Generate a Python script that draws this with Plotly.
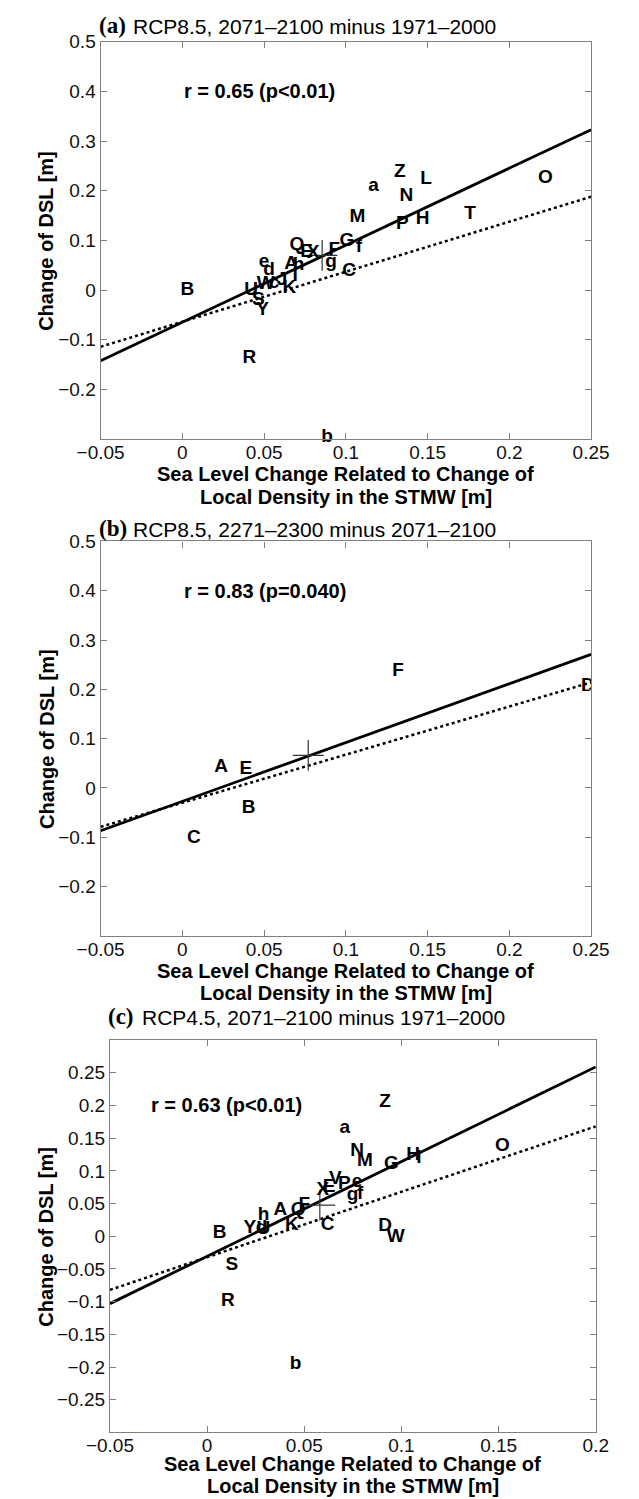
import plotly.graph_objects as go

W, H = 639, 1499

# ---------------- data ----------------
# Panel (a): RCP8.5, 2071-2100 minus 1971-2000
a_labels = ["A", "h", "B", "C", "E", "X", "F", "G", "f", "g", "H", "I", "K", "L", "M", "N",
            "O", "P", "Q", "R", "S", "T", "U", "Y", "Z", "a", "b", "d", "e", "W", "c", "J"]
a_x = [0.0665, 0.071, 0.003, 0.102, 0.076, 0.080, 0.093, 0.1007, 0.108, 0.091, 0.147, 0.069,
       0.0655, 0.149, 0.107, 0.137, 0.222, 0.1345, 0.070, 0.041, 0.0465, 0.176, 0.042, 0.049,
       0.133, 0.117, 0.0885, 0.053, 0.050, 0.051, 0.056, 0.061]
a_y = [0.053, 0.050, 0.0, 0.037, 0.076, 0.074, 0.080, 0.098, 0.087, 0.057, 0.143, 0.027,
       0.003, 0.223, 0.147, 0.190, 0.226, 0.133, 0.090, -0.138, -0.020, 0.153, 0.0, -0.040,
       0.237, 0.210, -0.297, 0.040, 0.057, 0.011, 0.014, 0.020]
a_mean = [0.0855, 0.070]
a_fit_x = [-0.05, 0.25]
a_fit_solid = [-0.142, 0.323]
a_fit_dotted = [-0.114, 0.188]

# Panel (b): RCP8.5, 2271-2300 minus 2071-2100
b_labels = ["A", "B", "C", "D", "E", "F"]
b_x = [0.0237, 0.0406, 0.007, 0.248, 0.0388, 0.132]
b_y = [0.041, -0.041, -0.102, 0.207, 0.037, 0.237]
b_mean = [0.077, 0.066]
b_fit_x = [-0.05, 0.25]
b_fit_solid = [-0.087, 0.271]
b_fit_dotted = [-0.079, 0.214]

# Panel (c): RCP4.5, 2071-2100 minus 1971-2000
c_labels = ["A", "B", "C", "D", "E", "F", "G", "H", "I", "K", "M", "N", "O", "P", "Q", "R",
            "S", "V", "X", "Y", "Z", "a", "b", "d", "U", "h", "g", "f", "e", "W"]
c_x = [0.0377, 0.0064, 0.062, 0.0916, 0.0628, 0.050, 0.0948, 0.106, 0.109, 0.0436, 0.0812,
       0.0772, 0.152, 0.0706, 0.0468, 0.0107, 0.0127, 0.066, 0.0596, 0.022, 0.0916, 0.0708,
       0.0455, 0.028, 0.029, 0.029, 0.0748, 0.0788, 0.0772, 0.097]
c_y = [0.040, 0.004, 0.0175, 0.016, 0.075, 0.0475, 0.110, 0.124, 0.119, 0.0175, 0.115,
       0.130, 0.138, 0.080, 0.040, -0.100, -0.045, 0.0875, 0.070, 0.0125, 0.205, 0.165,
       -0.195, 0.0125, 0.010, 0.032, 0.0625, 0.065, 0.0825, -0.002]
c_mean = [0.058, 0.0475]
c_fit_x = [-0.05, 0.20]
c_fit_solid = [-0.103, 0.259]
c_fit_dotted = [-0.082, 0.168]

# tick labels
x_ticks_ab = [-0.05, 0, 0.05, 0.1, 0.15, 0.2, 0.25]
x_text_ab = ["\u22120.05", "0", "0.05", "0.1", "0.15", "0.2", "0.25"]
y_ticks_ab = [0.5, 0.4, 0.3, 0.2, 0.1, 0, -0.1, -0.2]
y_text_ab = ["0.5", "0.4", "0.3", "0.2", "0.1", "0", "\u22120.1", "\u22120.2"]
x_ticks_c = [-0.05, 0, 0.05, 0.1, 0.15, 0.2]
x_text_c = ["\u22120.05", "0", "0.05", "0.1", "0.15", "0.2"]
y_ticks_c = [0.25, 0.2, 0.15, 0.1, 0.05, 0, -0.05, -0.1, -0.15, -0.2, -0.25]
y_text_c = ["0.25", "0.2", "0.15", "0.1", "0.05", "0", "\u22120.05", "\u22120.1",
            "\u22120.15", "\u22120.2", "\u22120.25"]

titles = ["RCP8.5, 2071\u20132100 minus 1971\u20132000",
          "RCP8.5, 2271\u20132300 minus 2071\u20132100",
          "RCP4.5, 2071\u20132100 minus 1971\u20132000"]
tags = ["(a)", "(b)", "(c)"]
r_texts = ["r = 0.65 (p<0.01)", "r = 0.83 (p=0.040)", "r = 0.63 (p<0.01)"]
r_pos = [(0.0, 0.4), (0.0, 0.4), (-0.03, 0.2)]
xlabel_lines = ["Sea Level Change Related to Change of", "Local Density in the STMW [m]"]
ylabel = "Change of DSL [m]"

# ---------------- layout geometry (pixels) ----------------
boxes = [  # left, right, top, bottom
    (82, 607, 32, 432),
    (82, 607, 535, 932),
    (92, 612, 1037, 1432),
]
xlab_offsets = [(35, 58), (35, 58), (32, 54)]
xranges = [[-0.05, 0.25], [-0.05, 0.25], [-0.05, 0.20]]
yranges = [[-0.3, 0.5], [-0.3, 0.5], [-0.3, 0.3]]

def px(x):
    return x / W

def py(y):
    return 1 - y / H

FONT = "Liberation Sans, Arial, Helvetica, sans-serif"
SERIF = "Liberation Serif, Times New Roman, serif"

fig = go.Figure()

panels = [
    (a_labels, a_x, a_y, a_mean, a_fit_x, a_fit_solid, a_fit_dotted, False),
    (b_labels, b_x, b_y, b_mean, b_fit_x, b_fit_solid, b_fit_dotted, True),
    (c_labels, c_x, c_y, c_mean, c_fit_x, c_fit_solid, c_fit_dotted, False),
]

annotations = []
for i, (labs, xs, ys, mean, fx, fs, fd, clip) in enumerate(panels):
    n = "" if i == 0 else str(i + 1)
    xa, ya = "x" + n, "y" + n
    fig.add_trace(go.Scatter(x=fx, y=fd, mode="lines", xaxis=xa, yaxis=ya,
                             line=dict(color="black", width=2.5, dash="dot"),
                             showlegend=False, hoverinfo="skip"))
    fig.add_trace(go.Scatter(x=fx, y=fs, mode="lines", xaxis=xa, yaxis=ya,
                             line=dict(color="black", width=2.8),
                             showlegend=False, hoverinfo="skip"))
    fig.add_trace(go.Scatter(x=[mean[0]], y=[mean[1]], mode="markers", xaxis=xa, yaxis=ya,
                             marker=dict(symbol="cross-thin", size=22,
                                         line=dict(color="#333333", width=1.2)),
                             showlegend=False, hoverinfo="skip"))
    fig.add_trace(go.Scatter(x=xs, y=ys, text=labs, mode="text", xaxis=xa, yaxis=ya,
                             textposition="middle center", cliponaxis=clip,
                             textfont=dict(family=FONT, size=19, color="black", weight="bold"),
                             showlegend=False, hoverinfo="skip"))

    l, r, t, b = boxes[i]
    xt, xtt = (x_ticks_ab, x_text_ab) if i < 2 else (x_ticks_c, x_text_c)
    yt, ytt = (y_ticks_ab, y_text_ab) if i < 2 else (y_ticks_c, y_text_c)
    axis_common = dict(showgrid=False, zeroline=False, showline=True, mirror="ticks",
                       linecolor="#808080", linewidth=1.2, ticks="inside", ticklen=6,
                       tickcolor="#808080", tickwidth=1.2,
                       tickfont=dict(family=FONT, size=19, color="#111111"))
    fig.update_layout(**{
        "xaxis" + n: dict(domain=[px(l), px(r)], range=xranges[i], anchor=ya,
                          tickvals=xt, ticktext=xtt, ticklabelstandoff=-4, **axis_common),
        "yaxis" + n: dict(domain=[py(b), py(t)], range=yranges[i], anchor=xa,
                          tickvals=yt, ticktext=ytt, **axis_common),
    })

    # title: tag in serif + text in sans
    ty = [16, 522, 1013][i]
    annotations.append(dict(x=px(l - 4), y=py(ty), xref="paper", yref="paper",
                            text="<b>" + tags[i] + "</b>", showarrow=False,
                            xanchor="left", yanchor="middle",
                            font=dict(family=SERIF, size=23, color="black")))
    annotations.append(dict(x=px(l + 32), y=py(ty + 1), xref="paper", yref="paper",
                            text=titles[i], showarrow=False,
                            xanchor="left", yanchor="middle",
                            font=dict(family=FONT, size=21, color="black")))
    # correlation text
    annotations.append(dict(x=r_pos[i][0], y=r_pos[i][1], xref=xa, yref=ya,
                            text="<b>" + r_texts[i] + "</b>", showarrow=False,
                            xanchor="left", yanchor="middle",
                            font=dict(family=FONT, size=20, color="black")))
    # x label, two lines
    for k, line in enumerate(xlabel_lines):
        annotations.append(dict(x=px((l + r) / 2), y=py(b + xlab_offsets[i][k]),
                                xref="paper", yref="paper",
                                text="<b>" + line + "</b>", showarrow=False,
                                xanchor="center", yanchor="middle",
                                font=dict(family=FONT, size=20, color="black")))
    # y label
    annotations.append(dict(x=px(24), y=py((t + b) / 2), xref="paper", yref="paper",
                            text="<b>" + ylabel + "</b>", showarrow=False, textangle=-90,
                            xanchor="center", yanchor="middle",
                            font=dict(family=FONT, size=20, color="black")))

fig.update_layout(width=W, height=H, margin=dict(l=0, r=0, t=0, b=0),
                  paper_bgcolor="white", plot_bgcolor="white",
                  annotations=annotations, showlegend=False)

fig.write_html("out.html")
